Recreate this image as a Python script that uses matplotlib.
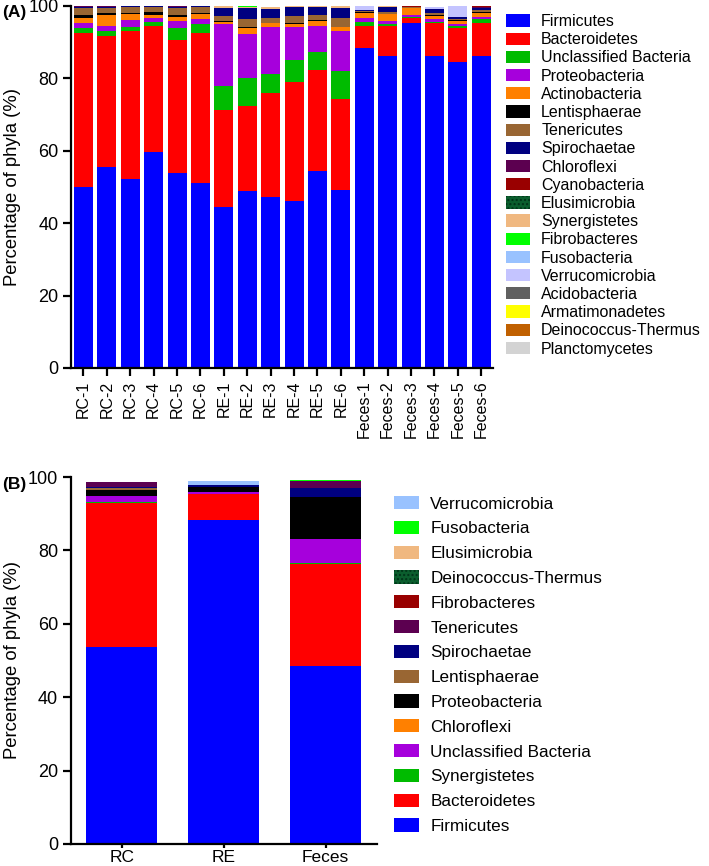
import numpy as np
import matplotlib
matplotlib.use("Agg")
import matplotlib.pyplot as plt
from matplotlib.patches import Patch

plt.rcParams['font.family'] = ['Liberation Sans', 'DejaVu Sans']

# ---------- panel A : per-sample phyla (%) ----------
samples = ['RC-1', 'RC-2', 'RC-3', 'RC-4', 'RC-5', 'RC-6',
           'RE-1', 'RE-2', 'RE-3', 'RE-4', 'RE-5', 'RE-6',
           'Feces-1', 'Feces-2', 'Feces-3', 'Feces-4', 'Feces-5', 'Feces-6']

firmicutes_a = [50.0, 55.5, 52.3, 59.8, 54.0, 51.0, 44.5, 49.0, 47.3, 46.2, 54.5, 49.3,
                88.5, 86.1, 95.2, 86.3, 84.5, 86.3]
bacteroidetes_a = [42.6, 36.1, 40.9, 34.7, 36.7, 41.6, 26.7, 23.4, 28.8, 32.8, 27.7, 25.1,
                   6.0, 8.4, 1.5, 9.0, 9.5, 8.9]
unclassified_a = [1.4, 1.4, 1.1, 1.0, 3.2, 2.3, 6.7, 7.7, 5.1, 6.2, 5.1, 7.6,
                  1.1, 0.5, 0.3, 0.3, 0.4, 1.1]
proteobacteria_a = [1.4, 1.6, 1.8, 1.1, 1.9, 1.4, 17.1, 12.3, 12.9, 8.9, 7.2, 11.1,
                    1.0, 0.9, 0.5, 0.7, 0.6, 0.7]
actinobacteria_a = [1.3, 2.8, 1.6, 0.9, 1.2, 1.5, 0.5, 1.5, 1.1, 0.8, 1.4, 1.0,
                    1.6, 1.8, 1.9, 0.9, 0.9, 1.1]
lentisphaerae_a = [0.8, 0.8, 0.5, 0.8, 0.6, 0.4, 0.3, 0.2, 0.2, 0.3, 0.2, 0.2,
                   0.2, 0.2, 0.1, 0.2, 0.3, 0.3]
tenericutes_a = [1.9, 1.3, 1.4, 1.4, 1.9, 1.4, 1.5, 2.3, 1.4, 2.0, 1.4, 2.5,
                 0.2, 0.5, 0.1, 0.6, 0.2, 0.6]
spirochaetae_a = [0.4, 0.3, 0.3, 0.2, 0.3, 0.3, 2.1, 3.0, 2.4, 2.4, 2.1, 2.6,
                  0.3, 1.3, 0.1, 1.3, 0.6, 0.4]
chloroflexi_a = [0.2, 0.2, 0.1, 0.0, 0.2, 0.1, 0.1, 0.0, 0.0, 0.0, 0.0, 0.0,
                 0.0, 0.0, 0.0, 0.0, 0.0, 0.2]
cyanobacteria_a = [0.0, 0.0, 0.0, 0.0, 0.0, 0.0, 0.0, 0.0, 0.0, 0.0, 0.0, 0.0,
                   0.0, 0.0, 0.3, 0.0, 0.0, 0.4]
elusimicrobia_a = [0.0] * 18
synergistetes_a = [0.0, 0.0, 0.0, 0.0, 0.0, 0.0, 0.4, 0.2, 0.5, 0.3, 0.3, 0.5,
                   0.0, 0.2, 0.0, 0.0, 0.0, 0.0]
fibrobacteres_a = [0.0, 0.0, 0.0, 0.0, 0.0, 0.0, 0.0, 0.3, 0.0, 0.0, 0.0, 0.0,
                   0.0, 0.0, 0.0, 0.0, 0.0, 0.0]
fusobacteria_a = [0.0] * 18
verrucomicrobia_a = [0.0, 0.0, 0.0, 0.0, 0.0, 0.0, 0.0, 0.0, 0.0, 0.0, 0.0, 0.0,
                     1.2, 0.0, 0.0, 0.5, 2.9, 0.0]
acidobacteria_a = [0.0] * 18
armatimonadetes_a = [0.0] * 18
deinococcus_a = [0.0] * 18
planctomycetes_a = [0.0] * 18

phyla_a = ['Firmicutes', 'Bacteroidetes', 'Unclassified Bacteria', 'Proteobacteria',
           'Actinobacteria', 'Lentisphaerae', 'Tenericutes', 'Spirochaetae',
           'Chloroflexi', 'Cyanobacteria', 'Elusimicrobia', 'Synergistetes',
           'Fibrobacteres', 'Fusobacteria', 'Verrucomicrobia', 'Acidobacteria',
           'Armatimonadetes', 'Deinococcus-Thermus', 'Planctomycetes']
colors_a = ['#0000FF', '#FF0000', '#00BB00', '#A600DC', '#FF8000', '#000000',
            '#996633', '#000080', '#5C0050', '#990000', '#0B5E2E', '#F0B880',
            '#00FF00', '#99C2FF', '#C4C4FF', '#606060', '#FFFF00', '#C06000',
            '#D3D3D3']
values_a = [firmicutes_a, bacteroidetes_a, unclassified_a, proteobacteria_a,
            actinobacteria_a, lentisphaerae_a, tenericutes_a, spirochaetae_a,
            chloroflexi_a, cyanobacteria_a, elusimicrobia_a, synergistetes_a,
            fibrobacteres_a, fusobacteria_a, verrucomicrobia_a, acidobacteria_a,
            armatimonadetes_a, deinococcus_a, planctomycetes_a]

# ---------- panel B : group means (%) ----------
groups = ['RC', 'RE', 'Feces']
firmicutes_b = [53.7, 88.3, 48.5]
bacteroidetes_b = [39.2, 7.1, 27.7]
synergistetes_b = [0.2, 0.0, 0.5]
unclassified_b = [1.6, 0.4, 6.5]
chloroflexi_b = [0.2, 0.0, 0.0]
proteobacteria_b = [1.5, 1.6, 11.4]
lentisphaerae_b = [0.5, 0.0, 0.0]
spirochaetae_b = [0.4, 0.3, 2.5]
tenericutes_b = [1.3, 0.2, 1.7]
fibrobacteres_b = [0.1, 0.0, 0.0]
deinococcus_b = [0.0, 0.0, 0.0]
elusimicrobia_b = [0.0, 0.0, 0.0]
fusobacteria_b = [0.0, 0.0, 0.3]
verrucomicrobia_b = [0.0, 1.0, 0.0]

phyla_b = ['Firmicutes', 'Bacteroidetes', 'Synergistetes', 'Unclassified Bacteria',
           'Chloroflexi', 'Proteobacteria', 'Lentisphaerae', 'Spirochaetae',
           'Tenericutes', 'Fibrobacteres', 'Deinococcus-Thermus', 'Elusimicrobia',
           'Fusobacteria', 'Verrucomicrobia']
colors_b = ['#0000FF', '#FF0000', '#00BB00', '#A600DC', '#FF8000', '#000000',
            '#996633', '#000080', '#5C0050', '#990000', '#0B5E2E', '#F0B880',
            '#00FF00', '#99C2FF']
values_b = [firmicutes_b, bacteroidetes_b, synergistetes_b, unclassified_b,
            chloroflexi_b, proteobacteria_b, lentisphaerae_b, spirochaetae_b,
            tenericutes_b, fibrobacteres_b, deinococcus_b, elusimicrobia_b,
            fusobacteria_b, verrucomicrobia_b]

W, H = 709, 866
fig = plt.figure(figsize=(W / 100, H / 100), dpi=100)


def style_axes(ax):
    for s in ['top', 'right']:
        ax.spines[s].set_visible(False)
    for s in ['left', 'bottom']:
        ax.spines[s].set_linewidth(1.6)
    ax.tick_params(width=1.6, length=5.5, direction='out', labelsize=13)
    ax.set_ylim(0, 100)
    ax.set_yticks([0, 20, 40, 60, 80, 100])


# panel A
axA = fig.add_axes([71 / W, 1 - 368 / H, 422 / W, 362 / H])
x = np.arange(len(samples))
bottom = np.zeros(len(samples))
for name, col, vals in zip(phyla_a, colors_a, values_a):
    axA.bar(x, vals, 0.81, bottom=bottom, color=col, linewidth=0)
    bottom += np.array(vals)
axA.set_xlim(-0.53, 17.5)
axA.set_xticks(x)
axA.set_xticklabels(samples, rotation=90)
style_axes(axA)
axA.tick_params(axis='x', labelsize=11.5)

handles_a = []
for name, col in zip(phyla_a, colors_a):
    if name == 'Elusimicrobia':
        handles_a.append(Patch(facecolor=col, edgecolor='#003318', hatch='....', linewidth=0, label=name))
    else:
        handles_a.append(Patch(facecolor=col, linewidth=0, label=name))
fig.legend(handles=handles_a, loc='upper left', bbox_to_anchor=(506 / W, 1 - 14 / H),
           frameon=False, fontsize=11.5, handlelength=1.5, handleheight=0.8,
           handletextpad=0.7, labelspacing=0.2, borderpad=0, borderaxespad=0)

fig.text(13 / W, 1 - 187 / H, 'Percentage of phyla (%)', rotation=90,
         ha='center', va='center', fontsize=13.3)
fig.text(2 / W, 1 - 12 / H, '(A)', fontweight='bold', fontsize=12.5, ha='left', va='center')

# panel B
axB = fig.add_axes([70.7 / W, 1 - 844 / H, 306 / W, 367 / H])
xb = np.arange(len(groups))
bottom = np.zeros(len(groups))
for name, col, vals in zip(phyla_b, colors_b, values_b):
    axB.bar(xb, vals, 0.7, bottom=bottom, color=col, linewidth=0)
    bottom += np.array(vals)
axB.set_xlim(-0.5, 2.5)
axB.set_xticks(xb)
axB.set_xticklabels(groups)
style_axes(axB)
axB.tick_params(axis='x', length=3, pad=1, labelsize=12.5)

handles_b = []
for name, col in zip(phyla_b[::-1], colors_b[::-1]):
    if name == 'Deinococcus-Thermus':
        handles_b.append(Patch(facecolor=col, edgecolor='#003318', hatch='....', linewidth=0, label=name))
    else:
        handles_b.append(Patch(facecolor=col, linewidth=0, label=name))
fig.legend(handles=handles_b, loc='upper left', bbox_to_anchor=(394 / W, 1 - 496 / H),
           frameon=False, fontsize=12.3, handlelength=1.47, handleheight=0.82,
           handletextpad=0.65, labelspacing=0.54, borderpad=0, borderaxespad=0)

fig.text(13 / W, 1 - 660 / H, 'Percentage of phyla (%)', rotation=90,
         ha='center', va='center', fontsize=13.3)
fig.text(2 / W, 1 - 484 / H, '(B)', fontweight='bold', fontsize=12.5, ha='left', va='center')

fig.savefig('out.png', dpi=100)
